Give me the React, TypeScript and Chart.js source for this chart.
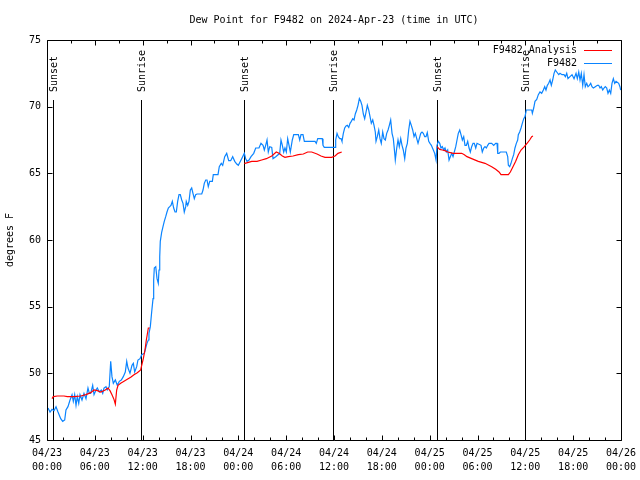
import React, { useEffect, useRef } from "react";
import { Chart, registerables } from "chart.js";

Chart.register(...registerables);

const titleText = "Dew Point for F9482 on 2024-Apr-23 (time in UTC)";
const yTitle = "degrees F";
const legendLabels = ["F9482 Analysis", "F9482"];
const seriesColors = ["#ff0000", "#0a84ff"];

const xTickLabels = [
  ["04/23", "00:00"], ["04/23", "06:00"], ["04/23", "12:00"], ["04/23", "18:00"],
  ["04/24", "00:00"], ["04/24", "06:00"], ["04/24", "12:00"], ["04/24", "18:00"],
  ["04/25", "00:00"], ["04/25", "06:00"], ["04/25", "12:00"], ["04/25", "18:00"],
  ["04/26", "00:00"],
];

const eventHours = [0.75, 11.85, 24.75, 35.88, 48.92, 59.9];
const eventLabels = ["Sunset", "Sunrise", "Sunset", "Sunrise", "Sunset", "Sunrise"];

// hours since 04/23 00:00 UTC
const stationHours = [
  0.13, 0.38, 0.63, 0.88, 1.13, 1.38, 1.72, 1.97, 2.22, 2.38, 2.63, 2.89, 3.14, 3.30, 3.47, 3.64, 3.80, 3.98,
  4.14, 4.39, 4.64, 4.89, 5.14, 5.31, 5.48, 5.73, 5.90, 6.15, 6.31, 6.56, 6.81, 6.99, 7.15, 7.40, 7.56, 7.81,
  7.99, 8.15, 8.32, 8.57, 8.82, 9.07, 9.32, 9.57, 9.82, 10.00, 10.16, 10.41, 10.66, 10.83, 11.00, 11.25, 11.41, 11.67,
  11.88, 12.21, 12.38, 12.54, 12.71, 12.79, 12.96, 13.13, 13.30, 13.38, 13.46, 13.64, 13.80, 13.96, 14.05, 14.14, 14.21, 14.39,
  14.55, 14.71, 14.89, 15.05, 15.22, 15.39, 15.55, 15.72, 15.89, 16.06, 16.22, 16.39, 16.56, 16.72, 16.90, 17.06, 17.22, 17.40,
  17.47, 17.65, 17.81, 17.98, 18.15, 18.31, 18.48, 18.65, 18.82, 19.41, 19.57, 19.73, 19.91, 20.07, 20.23, 20.41, 20.74, 20.86,
  21.45, 21.61, 21.86, 22.04, 22.29, 22.54, 22.79, 23.04, 23.29, 23.55, 23.80, 24.00, 24.42, 24.75, 24.92, 25.09, 25.34, 25.59,
  25.93, 26.18, 26.59, 26.84, 27.10, 27.26, 27.43, 27.60, 27.76, 27.94, 28.19, 28.35, 28.69, 29.19, 29.35, 29.52, 29.69, 29.85,
  30.02, 30.19, 30.36, 30.52, 30.77, 30.95, 31.53, 31.70, 31.86, 32.11, 32.28, 33.62, 33.78, 33.96, 34.53, 34.62, 34.78, 36.13,
  36.21, 36.38, 36.54, 36.72, 36.88, 37.00, 37.17, 37.34, 37.51, 37.67, 37.85, 38.01, 38.17, 38.35, 38.51, 38.67, 38.85, 39.01,
  39.18, 39.35, 39.51, 39.68, 39.85, 40.02, 40.18, 40.35, 40.52, 40.68, 40.86, 41.02, 41.18, 41.27, 41.43, 41.61, 41.77, 41.93,
  42.11, 42.27, 42.44, 42.61, 42.78, 42.94, 43.11, 43.28, 43.44, 43.62, 43.69, 43.87, 44.03, 44.19, 44.37, 44.53, 44.69, 44.87,
  45.03, 45.20, 45.37, 45.53, 45.70, 45.87, 46.04, 46.20, 46.38, 46.54, 46.70, 46.88, 47.04, 47.20, 47.38, 47.54, 47.70, 47.88,
  48.04, 48.21, 48.46, 48.63, 48.80, 48.92, 49.08, 49.26, 49.42, 49.59, 49.76, 49.92, 50.09, 50.26, 50.43, 50.59, 50.77, 50.93,
  51.09, 51.27, 51.43, 51.59, 51.77, 51.93, 52.10, 52.27, 52.43, 52.60, 52.77, 52.94, 53.10, 53.27, 53.44, 53.60, 53.78, 53.94,
  54.44, 54.60, 54.78, 54.94, 55.11, 55.28, 55.44, 55.78, 56.03, 56.28, 56.45, 56.54, 56.70, 56.86, 57.61, 57.79, 57.87, 58.04,
  58.20, 58.37, 58.54, 58.70, 58.87, 59.04, 59.12, 59.29, 59.46, 59.62, 59.80, 59.96, 60.12, 60.80, 60.88, 61.05, 61.21, 61.43,
  61.63, 61.84, 62.05, 62.26, 62.43, 62.59, 62.76, 62.93, 63.10, 63.26, 63.43, 63.60, 63.76, 63.94, 64.19, 64.35, 64.60, 64.85,
  65.02, 65.19, 65.35, 65.60, 65.86, 66.11, 66.36, 66.52, 66.70, 66.86, 67.02, 67.20, 67.36, 67.52, 67.70, 67.86, 68.03, 68.20,
  68.36, 68.53, 68.78, 69.03, 69.20, 69.37, 69.53, 69.71, 69.87, 70.03, 70.21, 70.37, 70.54, 70.71, 70.87, 71.04, 71.21, 71.38,
  71.71, 71.87, 71.96,
];

const stationValues = [
  47.4, 47.1, 47.3, 47.2, 47.5, 47.1, 46.6, 46.4, 46.5, 47.25, 47.5, 48.0, 48.4, 47.9, 48.4, 47.6, 48.25, 47.75,
  48.4, 48.0, 48.5, 48.1, 48.9, 48.5, 48.5, 49.1, 48.4, 48.75, 48.9, 48.6, 48.75, 48.5, 48.9, 49.0, 48.75, 49.0,
  50.9, 49.75, 49.25, 49.5, 49.1, 49.4, 49.5, 49.75, 50.1, 50.9, 50.4, 50.0, 50.6, 50.75, 50.1, 50.5, 51.0, 51.1,
  51.4, 51.5, 51.9, 52.25, 52.5, 53.0, 53.5, 54.6, 55.6, 57.0, 57.9, 58.0, 57.1, 56.75, 57.75, 58.75, 59.9, 60.6,
  61.0, 61.4, 61.75, 62.1, 62.4, 62.5, 62.6, 62.9, 62.4, 62.1, 62.1, 62.9, 63.4, 63.4, 63.0, 62.75, 62.1, 62.5,
  62.9, 62.6, 62.9, 63.75, 63.9, 63.5, 63.1, 63.4, 63.45, 63.45, 63.75, 64.25, 64.5, 64.5, 64.0, 64.4, 64.4, 64.9,
  64.9, 65.5, 65.75, 65.6, 66.25, 66.5, 65.95, 65.95, 66.25, 65.9, 65.7, 65.6, 66.1, 66.5, 66.1, 65.9, 66.0, 66.25,
  66.5, 66.9, 66.9, 67.25, 67.1, 66.75, 67.1, 67.5, 66.6, 67.0, 66.95, 66.1, 66.25, 66.5, 67.5, 67.1, 66.6, 66.9,
  66.6, 67.6, 67.1, 66.6, 67.5, 67.9, 67.9, 67.5, 67.9, 67.9, 67.4, 67.4, 67.25, 67.6, 67.6, 67.1, 66.95, 66.95,
  67.5, 68.0, 67.75, 67.6, 67.6, 67.4, 68.0, 68.4, 68.55, 68.6, 68.45, 68.75, 68.9, 69.1, 69.0, 69.45, 69.75, 70.1,
  70.6, 70.4, 70.1, 69.45, 69.1, 69.6, 70.1, 69.75, 69.25, 68.75, 69.0, 68.6, 68.1, 67.4, 67.75, 68.25, 67.6, 67.25,
  68.1, 67.6, 67.5, 68.0, 68.25, 68.6, 69.0, 68.0, 67.6, 66.5, 66.0, 66.9, 67.5, 67.0, 67.6, 67.1, 66.75, 66.1,
  66.9, 67.25, 68.25, 68.9, 68.6, 68.25, 67.75, 68.0, 67.6, 67.25, 67.6, 68.0, 68.1, 68.0, 67.75, 67.75, 68.05, 67.4,
  67.25, 67.1, 66.75, 66.5, 66.0, 67.1, 67.4, 67.25, 66.9, 67.0, 66.75, 66.9, 66.6, 66.75, 66.0, 66.25, 66.5, 66.25,
  66.6, 67.0, 67.5, 68.0, 68.25, 67.9, 67.5, 67.75, 67.1, 67.1, 67.4, 66.9, 66.6, 67.0, 67.25, 67.25, 66.9, 67.25,
  67.1, 66.6, 66.9, 67.0, 66.9, 67.1, 67.25, 67.25, 67.1, 67.25, 67.25, 66.5, 66.5, 66.6, 66.6, 66.25, 65.6, 65.5,
  65.75, 66.1, 66.4, 66.9, 67.25, 67.5, 67.9, 68.1, 68.4, 68.75, 69.1, 69.25, 69.75, 69.75, 69.5, 69.9, 70.4, 70.55,
  70.9, 71.1, 71.0, 71.25, 71.5, 71.25, 71.6, 71.75, 72.0, 71.6, 72.0, 72.5, 72.75, 72.6, 72.4, 72.5, 72.4, 72.4,
  72.25, 72.5, 72.1, 72.25, 72.4, 72.1, 72.5, 72.1, 72.6, 72.0, 72.5, 71.6, 72.4, 71.5, 71.75, 71.5, 71.6, 71.75,
  71.5, 71.4, 71.5, 71.6, 71.6, 71.4, 71.5, 71.25, 71.4, 71.5, 71.4, 71.0, 71.25, 71.0, 71.75, 72.1, 71.75, 71.9,
  71.75, 71.5, 71.25,
];

// analysis: null marks a gap between segments
const analysisHours = [
  0.63, 0.79, 1.29, 2.13, 2.55, 3.39, 4.23, 4.89, 5.48, 5.90, 6.31, 6.74, 7.31, 7.65, 7.90, 8.15, 8.40, 8.57,
  8.74, 8.91, 9.24, 9.66, 10.07, 10.50, 10.91, 11.33, 11.75, 11.88, 12.08, 12.29, 12.46, 12.63, 12.71, 12.88, 18.0,
  24.75, 24.84, 25.68, 26.34, 26.93, 27.51, 28.19, 28.76, 29.10, 29.52, 29.85, 30.27, 30.86, 31.52, 32.15, 32.70, 33.20,
  33.87, 34.37, 34.87, 35.71, 36.13, 36.50, 36.97, 42.0,
  48.92, 49.26, 49.59, 49.92, 50.26, 50.59, 50.93, 52.02, 52.35, 52.68, 53.27, 54.10, 54.94, 55.78, 56.28, 56.70,
  56.95, 57.87, 58.12, 58.45, 58.79, 59.12, 59.46, 59.87, 60.21, 60.54, 60.80, 60.96,
];
const analysisValues = [
  48.1, 48.25, 48.3, 48.3, 48.25, 48.25, 48.3, 48.4, 48.55, 48.75, 48.7, 48.6, 48.75, 48.9, 48.7, 48.4, 48.05, 47.7,
  48.75, 49.1, 49.25, 49.4, 49.55, 49.7, 49.9, 50.05, 50.25, 50.6, 51.1, 51.75, 52.5, 53.1, 53.4, 53.4, null,
  65.75, 65.75, 65.9, 65.9, 66.0, 66.1, 66.3, 66.6, 66.5, 66.3, 66.2, 66.25, 66.3, 66.4, 66.45, 66.6, 66.6,
  66.45, 66.3, 66.2, 66.2, 66.3, 66.5, 66.6, null,
  67.0, 66.8, 66.75, 66.7, 66.6, 66.55, 66.5, 66.5, 66.4, 66.25, 66.1, 65.9, 65.75, 65.5, 65.3, 65.1,
  64.9, 64.9, 65.1, 65.5, 65.9, 66.4, 66.75, 67.0, 67.25, 67.5, 67.75, 67.8,
];

const FONT = "'DejaVu Sans Mono', 'Liberation Mono', monospace";

const overlayPlugin = {
  id: "overlay",
  beforeDraw(chart: any) {
    const ctx = chart.ctx;
    ctx.save();
    ctx.fillStyle = "#ffffff";
    ctx.fillRect(0, 0, chart.width, chart.height);
    ctx.restore();
  },
  beforeDatasetsDraw(chart: any) {
    const ctx = chart.ctx;
    const xs = chart.scales.x;
    const { top, bottom } = chart.chartArea;
    ctx.save();
    ctx.strokeStyle = "#000";
    ctx.lineWidth = 1;
    ctx.fillStyle = "#000";
    ctx.font = "10px " + FONT;
    eventHours.forEach((h, i) => {
      const px = Math.round(xs.getPixelForValue(h)) + 0.5;
      ctx.beginPath();
      ctx.moveTo(px, top + 60);
      ctx.lineTo(px, bottom);
      ctx.stroke();
      ctx.save();
      ctx.translate(px + 1, top + 52);
      ctx.rotate(-Math.PI / 2);
      ctx.textAlign = "left";
      ctx.textBaseline = "middle";
      ctx.fillText(eventLabels[i], 0, 0);
      ctx.restore();
    });
    ctx.restore();
  },
  afterDatasetsDraw(chart: any) {
    const ctx = chart.ctx;
    const xs = chart.scales.x;
    const ys = chart.scales.y;
    const { left, right, top, bottom } = chart.chartArea;
    const L = Math.round(left) + 0.5;
    const R = Math.round(right) + 0.5;
    const T = Math.round(top) + 0.5;
    const B = Math.round(bottom) + 0.5;
    ctx.save();
    ctx.strokeStyle = "#000";
    ctx.lineWidth = 1;
    ctx.beginPath();
    ctx.rect(L, T, R - L, B - T);
    // bottom ticks every 2h, major every 6h
    for (let h = 0; h <= 72; h += 2) {
      const px = Math.round(xs.getPixelForValue(h)) + 0.5;
      const len = h % 6 === 0 ? 5 : 3;
      ctx.moveTo(px, B);
      ctx.lineTo(px, B - len);
    }
    // top ticks every 3h
    for (let h = 0; h <= 72; h += 3) {
      const px = Math.round(xs.getPixelForValue(h)) + 0.5;
      const len = h % 6 === 0 ? 5 : 3;
      ctx.moveTo(px, T);
      ctx.lineTo(px, T + len);
    }
    for (let v = 45; v <= 75; v += 5) {
      const py = Math.round(ys.getPixelForValue(v)) + 0.5;
      ctx.moveTo(L, py);
      ctx.lineTo(L + 5, py);
      ctx.moveTo(R, py);
      ctx.lineTo(R - 5, py);
    }
    ctx.stroke();

    // title
    ctx.fillStyle = "#000";
    ctx.font = "10px " + FONT;
    ctx.textAlign = "center";
    ctx.textBaseline = "middle";
    ctx.fillText(titleText, (left + right) / 2, 20);

    // legend
    ctx.textAlign = "right";
    legendLabels.forEach((lab, i) => {
      const y = top + 10 + i * 13;
      ctx.fillStyle = "#000";
      ctx.fillText(lab, right - 44, y);
      ctx.strokeStyle = seriesColors[i];
      ctx.beginPath();
      ctx.moveTo(right - 37, Math.round(y) + 0.5);
      ctx.lineTo(right - 9, Math.round(y) + 0.5);
      ctx.stroke();
    });
    ctx.restore();
  },
};

export default function App() {
  const ref = useRef<HTMLCanvasElement>(null);
  useEffect(() => {
    if (!ref.current) return;
    const analysisData = analysisHours.map((h, i) => ({ x: h, y: analysisValues[i] }));
    const stationData = stationHours.map((h, i) => ({ x: h, y: stationValues[i] }));
    const tickFont = { family: FONT, size: 10, lineHeight: 1.4 };
    const chart = new Chart(ref.current, {
      type: "line",
      data: {
        datasets: [
          {
            label: legendLabels[0],
            data: analysisData as any,
            borderColor: seriesColors[0],
            backgroundColor: seriesColors[0],
            borderWidth: 1.2,
            pointRadius: 0,
            tension: 0,
            spanGaps: false,
            order: 0,
          },
          {
            label: legendLabels[1],
            data: stationData as any,
            borderColor: seriesColors[1],
            backgroundColor: seriesColors[1],
            borderWidth: 1.2,
            pointRadius: 0,
            tension: 0,
            order: 1,
          },
        ],
      },
      options: {
        animation: false,
        responsive: false,
        devicePixelRatio: 1,
        layout: { padding: { left: 0, right: 19, top: 40, bottom: 0 } },
        plugins: { legend: { display: false }, title: { display: false }, tooltip: { enabled: false } },
        scales: {
          x: {
            type: "linear",
            min: 0,
            max: 72,
            grid: { display: false, drawTicks: false },
            border: { display: false },
            ticks: {
              stepSize: 6,
              autoSkip: false,
              maxRotation: 0,
              padding: 6,
              color: "#000",
              font: tickFont,
              callback: (v: any) => xTickLabels[Math.round(Number(v) / 6)] as any,
            },
            afterFit: (s: any) => {
              s.height = 40;
              s.paddingLeft = 0;
              s.paddingRight = 0;
            },
          },
          y: {
            min: 45,
            max: 75,
            grid: { display: false, drawTicks: false },
            border: { display: false },
            ticks: { stepSize: 5, padding: 6, color: "#000", font: { family: FONT, size: 10 } },
            title: {
              display: true,
              text: yTitle,
              color: "#000",
              font: { family: FONT, size: 10, lineHeight: 1.2 },
              padding: { top: 4, bottom: 0 },
            },
            afterFit: (s: any) => {
              s.width = 47;
              s.paddingTop = 0;
              s.paddingBottom = 0;
            },
          },
        },
      },
      plugins: [overlayPlugin],
    });
    return () => chart.destroy();
  }, []);
  return (
    <div style={{ position: "absolute", left: 0, top: 0, width: 640, height: 480 }}>
      <canvas ref={ref} width={640} height={480} />
    </div>
  );
}
